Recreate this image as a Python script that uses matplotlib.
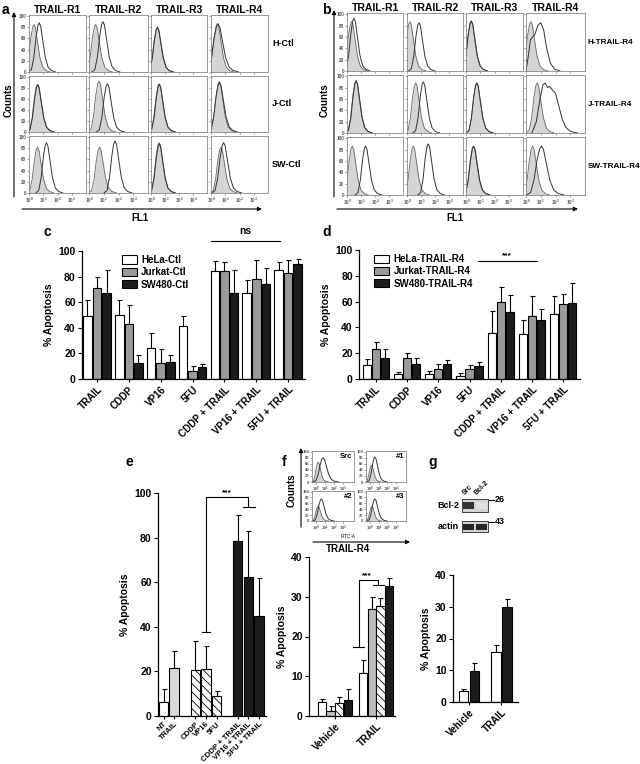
import numpy as np
import matplotlib
matplotlib.use('Agg')
import matplotlib.pyplot as plt

plt.rcParams['font.family'] = ['Liberation Sans', 'DejaVu Sans']
plt.rcParams['font.weight'] = 'bold'
plt.rcParams['axes.labelweight'] = 'bold'
plt.rcParams['hatch.linewidth'] = 0.6
plt.rcParams['mathtext.default'] = 'regular'

W, H = 640, 764

# ---------------- histogram data (a, b, f inset) ----------------
HIST_COLS = ['TRAIL-R1', 'TRAIL-R2', 'TRAIL-R3', 'TRAIL-R4']
A_ROWS = ['H-Ctl', 'J-Ctl', 'SW-Ctl']
B_ROWS = ['H-TRAIL-R4', 'J-TRAIL-R4', 'SW-TRAIL-R4']
HIST_TICKS = ['$10^0$', '$10^1$', '$10^2$', '$10^3$']

# peak shape (offset in log decades, fraction of peak height)
PEAK_DX = np.array([-0.75, -0.55, -0.38, -0.22, -0.09, 0.0, 0.1, 0.24, 0.42, 0.62, 0.85, 1.15])
PEAK_REL = np.array([0.0, 0.05, 0.3, 0.72, 0.95, 1.0, 0.93, 0.65, 0.3, 0.1, 0.03, 0.0])

# isotype (filled) and antibody (open) peaks: log10 FL1 position, height
a_iso_pos = [[0.35, 0.45, 0.45, 0.45], [0.6, 0.68, 0.58, 0.58], [0.6, 0.72, 0.58, 0.7]]
a_iso_h = [[85, 85, 80, 87], [87, 93, 88, 92], [82, 82, 90, 82]]
a_ab_pos = [[0.72, 0.95, 0.47, 0.5], [0.62, 1.25, 0.6, 0.6], [1.23, 1.77, 0.6, 0.89]]
a_ab_h = [[88, 90, 80, 86], [86, 88, 87, 90], [90, 93, 88, 90]]
a_ab_spread = [[1.0, 1.0, 1.0, 1.25], [1.0, 1.0, 1.0, 1.1], [1.0, 1.0, 1.0, 1.1]]

b_iso_pos = [[0.33, 0.21, 0.36, 0.33], [0.64, 0.62, 0.76, 0.76], [0.38, 0.45, 0.52, 0.45]]
b_iso_h = [[87, 87, 88, 87], [92, 88, 88, 88], [86, 86, 86, 86]]
b_ab_pos = [[0.5, 0.86, 0.38, 1.0], [0.66, 1.17, 0.76, 1.3], [1.33, 1.52, 0.54, 1.05]]
b_ab_h = [[93, 85, 88, 85], [92, 90, 88, 88], [86, 90, 86, 86]]
b_ab_spread = [[1.0, 1.0, 1.0, 1.0], [1.0, 1.0, 1.0, 1.0], [1.0, 1.0, 1.0, 1.35]]
# traces with shoulders, given point by point
b_h_r4_x = [0.0, 0.15, 0.3, 0.45, 0.6, 0.8, 1.0, 1.2, 1.4, 1.65, 1.95, 2.3]
b_h_r4_y = [0, 25, 55, 60, 64, 80, 85, 72, 40, 14, 3, 0]
b_j_r4_x = [0.4, 0.7, 0.95, 1.15, 1.3, 1.45, 1.6, 1.8, 2.0, 2.2, 2.45, 2.7, 3.0, 3.5]
b_j_r4_y = [0, 20, 60, 85, 88, 80, 82, 75, 70, 50, 25, 10, 3, 0]

f_inset_names = ['Src', '#1', '#2', '#3']
f_iso_pos = [0.2, 0.15, 0.2, 0.2]
f_iso_h = [65, 55, 50, 50]
f_ab_pos = [0.75, 0.55, 0.55, 0.55]
f_ab_h = [80, 82, 75, 75]
f_ab_spread = [1.5, 1.25, 1.25, 1.25]

# ---------------- bar chart data ----------------
treat_cats = ['TRAIL', 'CDDP', 'VP16', '5FU', 'CDDP + TRAIL', 'VP16 + TRAIL', '5FU + TRAIL']

c_series = ['HeLa-Ctl', 'Jurkat-Ctl', 'SW480-Ctl']
c_hela = [49, 50, 24, 41.5, 84, 67, 85]
c_hela_sd = [12.5, 11.5, 12, 7.5, 8.5, 10.5, 6.5]
c_jurkat = [71, 43, 12.5, 6.5, 84.5, 78.5, 83]
c_jurkat_sd = [8.5, 15, 11, 3.5, 7, 14.5, 10]
c_sw480 = [67, 12.5, 13.5, 9, 67, 74.5, 89.5]
c_sw480_sd = [18.5, 6.5, 5, 3, 18, 12.5, 4]

d_series = ['HeLa-TRAIL-R4', 'Jurkat-TRAIL-R4', 'SW480-TRAIL-R4']
d_hela = [10.5, 4.2, 3.5, 2.6, 36, 35, 50.5]
d_hela_sd = [5, 1, 3, 1.8, 16.7, 11, 14]
d_jurkat = [23, 16, 7.8, 7.5, 60, 49, 58]
d_jurkat_sd = [6, 4.5, 3.6, 3.5, 11, 15, 8]
d_sw480 = [16.5, 11.6, 12, 10.2, 52, 45.7, 58.7]
d_sw480_sd = [6.5, 5, 2.7, 3.2, 13, 8.8, 15.8]

e_cats = ['NT', 'TRAIL', 'CDDP', 'VP16', '5FU', 'CDDP + TRAIL', 'VP16 + TRAIL', '5FU + TRAIL']
e_mean = [6.5, 21.5, 20.5, 21, 9, 78.5, 62.5, 45]
e_sd = [5.5, 7.5, 13, 10.5, 2, 11.5, 20.5, 17]

fg_cats = ['Vehicle', 'TRAIL']
f_src = [3.5, 10.7]
f_src_sd = [0.7, 3.5]
f_c1 = [1.3, 27]
f_c1_sd = [1.1, 3]
f_c2 = [3.3, 27.7]
f_c2_sd = [1.5, 2.1]
f_c3 = [4, 32.7]
f_c3_sd = [2.7, 2]

g_lanes = ['Src', 'Bcl-2']
g_bcl2_band = [0.8, 0.12]
g_actin_band = [0.85, 0.85]
g_src = [3.5, 15.6]
g_src_sd = [0.5, 2.2]
g_bcl2 = [9.9, 30]
g_bcl2_sd = [2.3, 2.4]

fig = plt.figure(figsize=(6.4, 7.64), dpi=100)
ov = fig.add_axes([0, 0, 1, 1])
ov.set_xlim(0, W)
ov.set_ylim(H, 0)
ov.axis('off')


def pxAxes(x0, y0, x1, y1):
    return fig.add_axes([x0 / W, 1 - y1 / H, (x1 - x0) / W, (y1 - y0) / H])


def arrow(x0, y0, x1, y1):
    ov.annotate('', xy=(x1, y1), xytext=(x0, y0),
                arrowprops=dict(arrowstyle='-|>', lw=0.8, color='k', mutation_scale=6,
                                shrinkA=0, shrinkB=0))


def peakCurve(pos, height, spread=1.0):
    return pos + PEAK_DX * spread, height * PEAK_REL


def drawHist(ax, iso, ab, xlim=(0, 4), ylabels=True, xlabels=True, fs=3.3):
    ax.fill_between(iso[0], iso[1], color='#d4d4d4', lw=0)
    ax.plot(iso[0], iso[1], color='#666666', lw=0.6)
    ax.plot(ab[0], ab[1], color='#333333', lw=0.7)
    ax.set_xlim(*xlim)
    ax.set_ylim(0, 102)
    for s in ax.spines.values():
        s.set_color('#888888')
        s.set_linewidth(0.6)
    ax.set_yticks(range(0, 101, 20))
    ax.set_xticks([0, 1, 2, 3])
    ax.set_xticklabels(HIST_TICKS)
    ax.tick_params(length=1.2, width=0.4, pad=0.8, labelsize=fs, colors='#555555',
                   labelleft=ylabels, labelbottom=xlabels)


# ---------------- panels a and b ----------------
a_cols = [(29, 86), (89, 148), (151, 207), (211, 268)]
a_rows = [(15, 72), (76, 132), (136, 193)]
b_cols = [(347, 403), (407, 463), (466, 523), (526, 585)]
b_rows = [(13, 71), (75, 133), (137, 195)]

for r in range(3):
    for c in range(4):
        ax = pxAxes(a_cols[c][0], a_rows[r][0], a_cols[c][1], a_rows[r][1])
        drawHist(ax, peakCurve(a_iso_pos[r][c], a_iso_h[r][c]),
                 peakCurve(a_ab_pos[r][c], a_ab_h[r][c], a_ab_spread[r][c]),
                 ylabels=(c == 0), xlabels=(r == 2))
        ax = pxAxes(b_cols[c][0], b_rows[r][0], b_cols[c][1], b_rows[r][1])
        if (r, c) == (0, 3):
            ab = (b_h_r4_x, b_h_r4_y)
        elif (r, c) == (1, 3):
            ab = (b_j_r4_x, b_j_r4_y)
        else:
            ab = peakCurve(b_ab_pos[r][c], b_ab_h[r][c], b_ab_spread[r][c])
        drawHist(ax, peakCurve(b_iso_pos[r][c], b_iso_h[r][c]), ab,
                 ylabels=(c == 0), xlabels=(r == 2))

for c in range(4):
    ov.text(sum(a_cols[c]) / 2, 10, HIST_COLS[c], ha='center', va='center', fontsize=7.5)
    ov.text(sum(b_cols[c]) / 2, 8, HIST_COLS[c], ha='center', va='center', fontsize=7.5)
for r in range(3):
    ov.text(272, sum(a_rows[r]) / 2, A_ROWS[r], ha='left', va='center', fontsize=6.5)
    ov.text(588, sum(b_rows[r]) / 2, B_ROWS[r], ha='left', va='center', fontsize=5.9)

ov.text(2, 10, 'a', fontsize=10, va='center')
ov.text(322, 10, 'b', fontsize=10, va='center')
ov.text(9, 100, 'Counts', rotation=90, ha='center', va='center', fontsize=7)
ov.text(325, 100, 'Counts', rotation=90, ha='center', va='center', fontsize=7)
arrow(14, 197, 14, 12)
arrow(334, 197, 334, 10)
arrow(22, 209, 262, 209)
arrow(337, 209, 578, 209)
ov.text(140, 218, 'FL1', ha='center', va='center', fontsize=7)
ov.text(455, 218, 'FL1', ha='center', va='center', fontsize=7)


# ---------------- bar chart helpers ----------------
def styleBars(ax, ymax, ystep, xt, xlabels, fs=7):
    ax.set_ylim(0, ymax)
    ax.set_yticks(np.arange(0, ymax + 1, ystep))
    ax.spines['top'].set_visible(False)
    ax.spines['right'].set_visible(False)
    for s in ('left', 'bottom'):
        ax.spines[s].set_linewidth(0.9)
    ax.set_xticks(xt)
    ax.set_xticklabels(xlabels, rotation=45, ha='right', rotation_mode='anchor', fontsize=fs)
    ax.tick_params(axis='y', labelsize=7.5, length=3, width=0.8, pad=1.5)
    ax.tick_params(axis='x', length=2.5, width=0.8, pad=1.5)
    ax.set_ylabel('% Apoptosis', fontsize=7.5, labelpad=3)


def bars(ax, x, mean, sd, color, hatch=None, width=0.27, label=None):
    ax.bar(x, mean, width, color=color, edgecolor='k', lw=0.8, hatch=hatch, label=label, zorder=2)
    ax.errorbar(x, mean, yerr=[np.zeros(len(sd)), sd], fmt='none', ecolor='k',
                elinewidth=0.8, capsize=1.8, capthick=0.8, zorder=1)


WHITE, GRAY, BLACK = '#ffffff', '#9a9a9a', '#1c1c1c'

# ---------------- panel c ----------------
ax = pxAxes(82, 251, 305, 379)
xc = np.arange(len(treat_cats))
bars(ax, xc - 0.3, c_hela, c_hela_sd, WHITE, label=c_series[0])
bars(ax, xc, c_jurkat, c_jurkat_sd, GRAY, label=c_series[1])
bars(ax, xc + 0.3, c_sw480, c_sw480_sd, BLACK, label=c_series[2])
ax.set_xlim(-0.47, 6.53)
styleBars(ax, 100, 20, xc, treat_cats)
ax.legend(loc='upper left', bbox_to_anchor=(0.16, 1.0), frameon=False, fontsize=7,
          handlelength=1.6, handleheight=0.9, labelspacing=0.25, handletextpad=0.4,
          borderaxespad=0)
ax.plot([3.58, 5.75], [108, 108], color='k', lw=0.8, clip_on=False)
ax.text(4.67, 112, 'ns', ha='center', va='bottom', fontsize=7.5)
ov.text(44, 232, 'c', fontsize=10, va='center')

# ---------------- panel d ----------------
ax = pxAxes(359, 250, 580, 379)
bars(ax, xc - 0.29, d_hela, d_hela_sd, WHITE, width=0.26, label=d_series[0])
bars(ax, xc, d_jurkat, d_jurkat_sd, GRAY, width=0.26, label=d_series[1])
bars(ax, xc + 0.29, d_sw480, d_sw480_sd, BLACK, width=0.26, label=d_series[2])
ax.set_xlim(-0.54, 6.54)
styleBars(ax, 100, 20, xc, treat_cats)
ax.legend(loc='upper left', bbox_to_anchor=(0.05, 1.0), frameon=False, fontsize=7,
          handlelength=1.6, handleheight=0.9, labelspacing=0.25, handletextpad=0.4,
          borderaxespad=0)
ax.plot([3.27, 5.16], [91.5, 91.5], color='k', lw=0.8)
ax.text(4.2, 93, '***', ha='center', va='bottom', fontsize=6)
ov.text(322, 232, 'd', fontsize=10, va='center')

# ---------------- panel e ----------------
ax = pxAxes(158, 493, 266, 716)
xe = np.array([0, 1, 3, 4, 5, 7, 8, 9])
e_colors = [WHITE, '#d8d8d8', WHITE, WHITE, WHITE, BLACK, BLACK, BLACK]
e_hatch = [None, None, '\\\\\\\\', '\\\\\\\\', '\\\\\\\\', None, None, None]
for i in range(len(xe)):
    bars(ax, [xe[i]], [e_mean[i]], [e_sd[i]], e_colors[i], hatch=e_hatch[i], width=0.88)
ax.set_xlim(-0.52, 9.66)
styleBars(ax, 100, 20, xe, e_cats, fs=5.6)
ax.tick_params(axis='x', pad=0.8)
# significance bracket
ax.plot([3.6, 4.4], [37.5, 37.5], color='k', lw=0.8, clip_on=False)
ax.plot([4, 4, 8, 8], [37.5, 98, 98, 93.5], color='k', lw=0.8, clip_on=False)
ax.plot([7.5, 8.6], [93.5, 93.5], color='k', lw=0.8, clip_on=False)
ax.text(6, 98.5, '***', ha='center', va='bottom', fontsize=6)
ov.text(126, 462, 'e', fontsize=10, va='center')

# ---------------- panel f ----------------
f_box = [(312, 451, 354, 482), (366, 451, 406, 482), (312, 491, 354, 521), (366, 491, 406, 521)]
for i in range(4):
    ax = pxAxes(*f_box[i])
    drawHist(ax, peakCurve(f_iso_pos[i], f_iso_h[i]),
             peakCurve(f_ab_pos[i], f_ab_h[i], f_ab_spread[i]), xlim=(-0.5, 4.2), fs=3)
    ax.text(0.95, 0.92, f_inset_names[i], transform=ax.transAxes, ha='right', va='top',
            fontsize=5.5)
ov.text(292, 490, 'Counts', rotation=90, ha='center', va='center', fontsize=7)
arrow(301, 527, 301, 448)
arrow(313, 542, 410, 542)
ov.text(348, 536, 'FITC-A', ha='center', va='center', fontsize=3.3, fontweight='normal')
ov.text(348, 549, 'TRAIL-R4', ha='center', va='center', fontsize=7)
ov.text(282, 462, 'f', fontsize=10, va='center')

ax = pxAxes(309, 557, 395, 716)
xf = np.arange(len(fg_cats))
bw = 0.212
bars(ax, xf - 1.5 * bw, f_src, f_src_sd, WHITE, width=0.2)
bars(ax, xf - 0.5 * bw, f_c1, f_c1_sd, '#bdbdbd', width=0.2)
bars(ax, xf + 0.5 * bw, f_c2, f_c2_sd, WHITE, hatch='\\\\\\\\', width=0.2)
bars(ax, xf + 1.5 * bw, f_c3, f_c3_sd, BLACK, width=0.2)
ax.set_xlim(-0.63, 1.46)
styleBars(ax, 40, 10, xf, fg_cats)
left_leg = 1 - 2 * bw
ax.plot([left_leg - 0.13, left_leg + 0.13], [17.3, 17.3], color='k', lw=0.8)
ax.plot([left_leg, left_leg, 1.05, 1.05], [17.3, 34.2, 34.2, 33], color='k', lw=0.8)
ax.plot([0.93, 1.19], [33, 33], color='k', lw=0.8)
ax.text(0.78, 34.3, '***', ha='center', va='bottom', fontsize=6)

# ---------------- panel g ----------------
ov.text(428, 462, 'g', fontsize=10, va='center')
for band, (y0, y1), name, kda in [(g_bcl2_band, (499, 512), 'Bcl-2', '26'),
                                  (g_actin_band, (521, 532), 'actin', '43')]:
    ax = pxAxes(462, y0, 488, y1)
    ax.set_facecolor('#d2d2d2')
    ax.bar([0, 1], [0.55, 0.55], 0.9, bottom=0.22, color=[str(1 - v) for v in band], lw=0)
    ax.set_xlim(-0.5, 1.5)
    ax.set_ylim(0, 1)
    ax.set_xticks([])
    ax.set_yticks([])
    for s in ax.spines.values():
        s.set_linewidth(0.7)
        s.set_color('#444444')
    ov.text(459, (y0 + y1) / 2, name, ha='right', va='center', fontsize=6.5)
    ov.plot([488, 494], [y0 + 1, y0 + 1], color='k', lw=0.7)
    ov.text(495, y0 + 1, kda, ha='left', va='center', fontsize=6.5)
for i, lane in enumerate(g_lanes):
    ov.text(466 + 12 * i, 496, lane, rotation=45, ha='left', va='bottom', fontsize=5,
            rotation_mode='anchor')

ax = pxAxes(453, 575, 518, 702)
xg = np.arange(len(fg_cats))
bars(ax, xg - 0.17, g_src, g_src_sd, WHITE, width=0.3)
bars(ax, xg + 0.17, g_bcl2, g_bcl2_sd, BLACK, width=0.3)
ax.set_xlim(-0.49, 1.51)
styleBars(ax, 40, 10, xg, fg_cats)

fig.savefig('out.png', dpi=100)
